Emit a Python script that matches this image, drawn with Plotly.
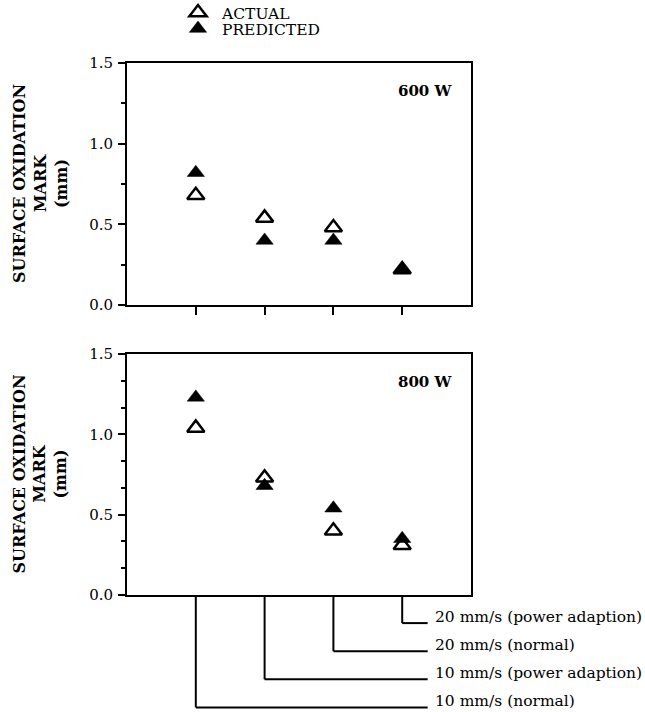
import plotly.graph_objects as go

# ---- data -------------------------------------------------------------
categories = [
    "10 mm/s (normal)",
    "10 mm/s (power adaption)",
    "20 mm/s (normal)",
    "20 mm/s (power adaption)",
]
actual_600 = [0.68, 0.54, 0.48, 0.22]
predicted_600 = [0.82, 0.40, 0.40, 0.22]
actual_800 = [1.04, 0.73, 0.40, 0.31]
predicted_800 = [1.23, 0.68, 0.54, 0.35]
panel_labels = ["600 W", "800 W"]
series_names = ["ACTUAL", "PREDICTED"]
y_title = "SURFACE OXIDATION<br>MARK<br>(mm)"

# ---- layout constants -------------------------------------------------
W, H = 645, 712
M_L, M_R, M_T, M_B = 127, 174, 63, 117
PLOT_W = W - M_L - M_R
PLOT_H = H - M_T - M_B
SERIF = "DejaVu Serif"
INK = "black"
TOP_DOMAIN = [(PLOT_H - (305 - M_T)) / PLOT_H, 1.0]
BOT_DOMAIN = [0.0, (595 - 354) / PLOT_H]
LEADER_STEP = 28.1          # vertical spacing of the label leaders, px
LEADER_END = 3.37           # x (category units) where the leaders stop
MARKER_SIZE = 15

fig = go.Figure()

panels = [
    ("x", "y", actual_600, predicted_600),
    ("x2", "y2", actual_800, predicted_800),
]
for k, (xa, ya, act, pred) in enumerate(panels):
    first = k == 0
    fig.add_trace(go.Scatter(
        x=categories, y=act, xaxis=xa, yaxis=ya, mode="markers",
        name=series_names[0], showlegend=first, legend="legend",
        marker=dict(symbol="triangle-up-open", size=MARKER_SIZE, color=INK,
                    line=dict(width=2.5, color=INK)),
        cliponaxis=False,
    ))
    fig.add_trace(go.Scatter(
        x=categories, y=pred, xaxis=xa, yaxis=ya, mode="markers",
        name=series_names[1], showlegend=first, legend="legend2",
        marker=dict(symbol="triangle-up", size=MARKER_SIZE, color=INK,
                    line=dict(width=0.5, color=INK)),
        cliponaxis=False,
    ))

common_x = dict(
    type="category", categoryorder="array", categoryarray=categories,
    range=[-1, 4], showticklabels=False, showgrid=False, zeroline=False,
    showline=True, linewidth=2, linecolor=INK, mirror=True,
)
common_y = dict(
    range=[0, 1.5], tickmode="linear", tick0=0, dtick=0.5, tickformat=".1f",
    ticks="outside", ticklen=7, tickwidth=2, tickcolor=INK,
    showgrid=False, zeroline=False, showline=True, linewidth=2,
    linecolor=INK, mirror=True, ticklabelstandoff=2,
    tickfont=dict(family=SERIF, size=15, color=INK),
)
legend_style = dict(
    xref="container", yref="container", x=174 / W, xanchor="left",
    yanchor="middle", itemwidth=38, bgcolor="rgba(0,0,0,0)", borderwidth=0,
    font=dict(family=SERIF, size=15.5, color=INK),
)

fig.update_layout(
    width=W, height=H,
    margin=dict(l=M_L, r=M_R, t=M_T, b=M_B, autoexpand=False),
    paper_bgcolor="white", plot_bgcolor="white",
    font=dict(family=SERIF, size=15, color=INK),
    xaxis=dict(common_x, anchor="y", domain=[0, 1], ticks="outside",
               ticklen=8, tickwidth=2, tickcolor=INK),
    yaxis=dict(common_y, anchor="x", domain=TOP_DOMAIN,
               minor=dict(dtick=0.25, tick0=0, ticks="outside", ticklen=4,
                          tickwidth=1.5, tickcolor=INK)),
    xaxis2=dict(common_x, anchor="y2", domain=[0, 1], ticks=""),
    yaxis2=dict(common_y, anchor="x2", domain=BOT_DOMAIN,
                minor=dict(dtick=0.5 / 3, tick0=0, ticks="outside",
                           ticklen=4, tickwidth=1.5, tickcolor=INK)),
    legend=dict(legend_style, y=1 - 13 / H),
    legend2=dict(legend_style, y=1 - 29 / H),
)

# panel labels and y titles
for label, ya in zip(panel_labels, ["y", "y2"]):
    fig.add_annotation(
        text=f"<b>{label}</b>", xref="paper", yref=f"{ya} domain",
        x=(425 - M_L) / PLOT_W, y=0.885, showarrow=False,
        xanchor="center", yanchor="middle",
        font=dict(family=SERIF, size=15, color=INK),
    )
    fig.add_annotation(
        text=f"<b>{y_title}</b>", xref="paper", yref=f"{ya} domain",
        x=(40 - M_L) / PLOT_W, y=0.5, showarrow=False,
        textangle=-90, xanchor="center", yanchor="middle",
        font=dict(family=SERIF, size=16, color=INK),
    )

# category leaders below the lower panel
n = len(categories)
for i, cat in enumerate(categories):
    drop = LEADER_STEP * (n - i)
    line = dict(color=INK, width=2)
    fig.add_shape(type="line", xref="x2", yref="paper", ysizemode="pixel",
                  yanchor=0, x0=cat, x1=cat, y0=0, y1=-drop, line=line)
    fig.add_shape(type="line", xref="x2", yref="paper", ysizemode="pixel",
                  yanchor=0, x0=cat, x1=LEADER_END, y0=-drop, y1=-drop,
                  line=line)
    fig.add_annotation(
        text=cat, xref="paper", yref="paper",
        x=(433 - M_L) / PLOT_W, y=-drop / PLOT_H, yshift=6,
        xanchor="left", yanchor="middle", showarrow=False,
        font=dict(family=SERIF, size=15.5, color=INK),
    )

fig.write_html("out.html")
